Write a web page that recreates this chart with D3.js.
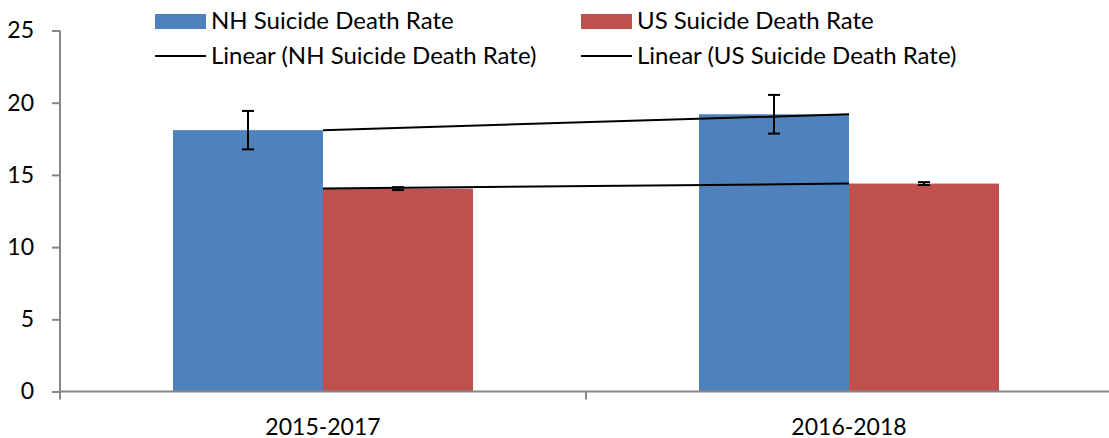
<!DOCTYPE html>
<html>
<head>
<meta charset="utf-8">
<script src="https://cdn.jsdelivr.net/npm/d3@7"></script>
<style>
  html, body { margin: 0; padding: 0; background: #fff; }
  svg { display: block; }
</style>
</head>
<body>
<svg id="chart"></svg>
<script>
const categories = ['2015-2017', '2016-2018'];
const nhRates = [18.1, 19.2];
const usRates = [14.05, 14.4];
const nhErrors = [1.33, 1.34];
const usErrors = [0.1, 0.1];
const yTicks = [0, 5, 10, 15, 20, 25];
const seriesNames = ['NH Suicide Death Rate', 'US Suicide Death Rate'];
const seriesColors = ['#4F81BD', '#C0504D'];

const WIDTH = 1109;
const HEIGHT = 438;
const PLOT_LEFT = 60;
const PLOT_RIGHT = 1112;
const PLOT_TOP = 30.5;
const PLOT_BOTTOM = 391.5;
const BAR_WIDTH = 150;
const FONT = 'Lato, "Open Sans", sans-serif';
const AXIS_FONT_SIZE = 23;
const LEGEND_FONT_SIZE = 24;
const AXIS_COLOR = '#868686';

const svg = d3.select('#chart').
  attr('width', WIDTH).
  attr('height', HEIGHT).
  attr('font-family', FONT);

/* --SCALES-- */

const xScale = d3.scaleBand().
  domain(categories).
  range([PLOT_LEFT, PLOT_RIGHT]);

const seriesScale = d3.scaleBand().
  domain([0, 1]).
  range([xScale.bandwidth() / 2 - BAR_WIDTH, xScale.bandwidth() / 2 + BAR_WIDTH]);

const yScale = d3.scaleLinear().
  domain([0, 25]).
  range([PLOT_BOTTOM, PLOT_TOP]);

const series = [nhRates, usRates];
const errors = [nhErrors, usErrors];

/* --BARS-- */

series.forEach((values, s) => {
  svg.append('g').
    selectAll('rect').
    data(values).
    enter().
    append('rect').
    attr('x', (d, i) => xScale(categories[i]) + seriesScale(s)).
    attr('y', d => yScale(d)).
    attr('width', seriesScale.bandwidth()).
    attr('height', d => yScale(0) - yScale(d)).
    attr('fill', seriesColors[s]);
});

/* --TREND LINES-- */

// least squares fit over category index, drawn between the category centres
function linearFit(values) {
  const xs = values.map((d, i) => i + 1);
  const mx = d3.mean(xs);
  const my = d3.mean(values);
  const slope = d3.sum(xs, (x, i) => (x - mx) * (values[i] - my)) / d3.sum(xs, x => (x - mx) * (x - mx));
  return xs.map(x => my + slope * (x - mx));
}

const line = d3.line().
  x((d, i) => xScale(categories[i]) + xScale.bandwidth() / 2).
  y(d => yScale(d));

series.forEach(values => {
  svg.append('path').
    attr('d', line(linearFit(values))).
    attr('fill', 'none').
    attr('stroke', '#000').
    attr('stroke-width', 2);
});

/* --ERROR BARS-- */

series.forEach((values, s) => {
  const g = svg.append('g').
    attr('stroke', '#000').
    attr('stroke-width', 2);
  values.forEach((v, i) => {
    const cx = xScale(categories[i]) + seriesScale(s) + seriesScale.bandwidth() / 2;
    const top = yScale(v + errors[s][i]);
    const bottom = yScale(v - errors[s][i]);
    g.append('line').attr('x1', cx).attr('x2', cx).attr('y1', top).attr('y2', bottom);
    g.append('line').attr('x1', cx - 6).attr('x2', cx + 6).attr('y1', top).attr('y2', top);
    g.append('line').attr('x1', cx - 6).attr('x2', cx + 6).attr('y1', bottom).attr('y2', bottom);
  });
});

/* --AXES-- */

const yAxis = d3.axisLeft(yScale).
  tickValues(yTicks).
  tickSize(8).
  tickPadding(18);

const yAxisG = svg.append('g').
  attr('transform', `translate(${PLOT_LEFT}, 0)`).
  call(yAxis);

yAxisG.select('.domain').attr('stroke', AXIS_COLOR).attr('stroke-width', 2).attr('d', `M0,${PLOT_TOP}V${PLOT_BOTTOM}`);
yAxisG.selectAll('.tick line').attr('stroke', AXIS_COLOR).attr('stroke-width', 2);
yAxisG.selectAll('.tick text').
  attr('font-family', FONT).
  attr('font-size', AXIS_FONT_SIZE).
  attr('fill', '#000');

const xAxisG = svg.append('g').
  attr('transform', `translate(0, ${PLOT_BOTTOM})`);

xAxisG.append('line').
  attr('x1', PLOT_LEFT).
  attr('x2', PLOT_RIGHT).
  attr('stroke', AXIS_COLOR).
  attr('stroke-width', 2);

xAxisG.selectAll('line.tick').
  data(categories.concat([null])).
  enter().
  append('line').
  attr('class', 'tick').
  attr('x1', (d, i) => PLOT_LEFT + i * xScale.bandwidth()).
  attr('x2', (d, i) => PLOT_LEFT + i * xScale.bandwidth()).
  attr('y1', 0).
  attr('y2', 8).
  attr('stroke', AXIS_COLOR).
  attr('stroke-width', 2);

xAxisG.selectAll('text').
  data(categories).
  enter().
  append('text').
  attr('x', d => xScale(d) + xScale.bandwidth() / 2).
  attr('y', 43).
  attr('text-anchor', 'middle').
  attr('font-size', AXIS_FONT_SIZE).
  attr('fill', '#000').
  text(d => d);

/* --LEGEND-- */

const legendItems = [
  { type: 'bar', label: seriesNames[0], color: seriesColors[0], x: 155, y: 21 },
  { type: 'bar', label: seriesNames[1], color: seriesColors[1], x: 581, y: 21 },
  { type: 'line', label: `Linear (${seriesNames[0]})`, color: '#000', x: 155, y: 56 },
  { type: 'line', label: `Linear (${seriesNames[1]})`, color: '#000', x: 581, y: 56 }];

const legendG = svg.append('g').attr('font-size', LEGEND_FONT_SIZE);

legendItems.forEach(item => {
  if (item.type === 'bar') {
    legendG.append('rect').
      attr('x', item.x).
      attr('y', item.y - 7).
      attr('width', 51).
      attr('height', 15).
      attr('fill', item.color);
  } else {
    legendG.append('line').
      attr('x1', item.x).
      attr('x2', item.x + 51).
      attr('y1', item.y).
      attr('y2', item.y).
      attr('stroke', item.color).
      attr('stroke-width', 2);
  }
  legendG.append('text').
    attr('x', item.x + 56).
    attr('y', item.y).
    attr('dy', '0.35em').
    attr('fill', '#000').
    text(item.label);
});
</script>
</body>
</html>
